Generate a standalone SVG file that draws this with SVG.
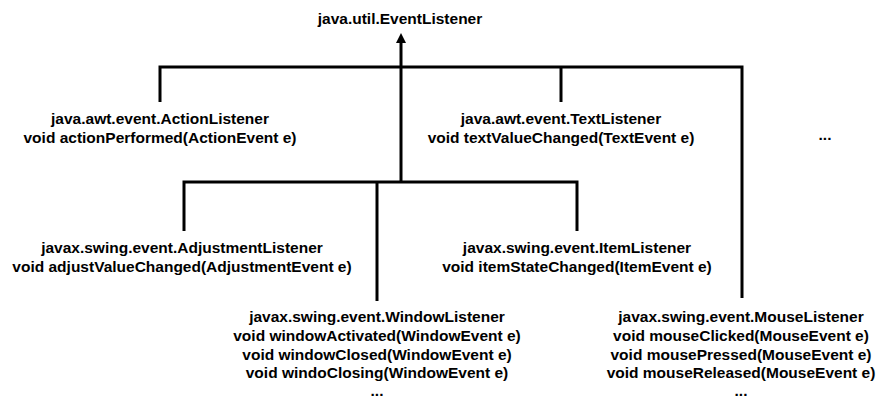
<svg xmlns="http://www.w3.org/2000/svg" width="885" height="398" viewBox="0 0 885 398">
  <style>
    .lbl { font-family: "Liberation Sans", Arial, Helvetica, sans-serif; font-weight: bold; font-size: 15.5px; fill: #000; text-anchor: middle; }
    .wire { stroke: #000; stroke-width: 3; fill: none; }
  </style>
  <defs>
    <marker id="arrowHead" markerWidth="10" markerHeight="10" refX="1" refY="5" orient="auto" markerUnits="userSpaceOnUse" viewBox="0 0 10 10">
      <path d="M0,0 L10,5 L0,10 Z" fill="#000"/>
    </marker>
  </defs>
  <rect width="885" height="398" fill="#fff"/>

  <!-- inheritance connectors -->
  <g id="connectors">
    <path class="wire" d="M401,182 V42" marker-end="url(#arrowHead)"/>
    <path class="wire" d="M160,102 V67 H742 V298"/>
    <path class="wire" d="M561,67 V102"/>
    <path class="wire" d="M184,231 V182 H577 V231"/>
    <path class="wire" d="M377,182 V301"/>
  </g>

  <g id="eventListener">
    <text class="lbl" x="400" y="24">java.util.EventListener</text>
  </g>

  <g id="actionListener">
    <text class="lbl" x="160" y="124">java.awt.event.ActionListener</text>
    <text class="lbl" x="160" y="143">void actionPerformed(ActionEvent e)</text>
  </g>

  <g id="textListener">
    <text class="lbl" x="561" y="124">java.awt.event.TextListener</text>
    <text class="lbl" x="561" y="143">void textValueChanged(TextEvent e)</text>
  </g>

  <g id="moreListeners">
    <text class="lbl" x="825" y="140">...</text>
  </g>

  <g id="adjustmentListener">
    <text class="lbl" x="182" y="253">javax.swing.event.AdjustmentListener</text>
    <text class="lbl" x="182" y="272">void adjustValueChanged(AdjustmentEvent e)</text>
  </g>

  <g id="itemListener">
    <text class="lbl" x="577" y="253">javax.swing.event.ItemListener</text>
    <text class="lbl" x="577" y="272">void itemStateChanged(ItemEvent e)</text>
  </g>

  <g id="windowListener">
    <text class="lbl" x="377" y="322">javax.swing.event.WindowListener</text>
    <text class="lbl" x="377" y="341">void windowActivated(WindowEvent e)</text>
    <text class="lbl" x="377" y="360">void windowClosed(WindowEvent e)</text>
    <text class="lbl" x="377" y="378">void windoClosing(WindowEvent e)</text>
    <text class="lbl" x="377" y="396">...</text>
  </g>

  <g id="mouseListener">
    <text class="lbl" x="741" y="322">javax.swing.event.MouseListener</text>
    <text class="lbl" x="741" y="341">void mouseClicked(MouseEvent e)</text>
    <text class="lbl" x="741" y="360">void mousePressed(MouseEvent e)</text>
    <text class="lbl" x="741" y="378">void mouseReleased(MouseEvent e)</text>
    <text class="lbl" x="741" y="396">...</text>
  </g>
</svg>
